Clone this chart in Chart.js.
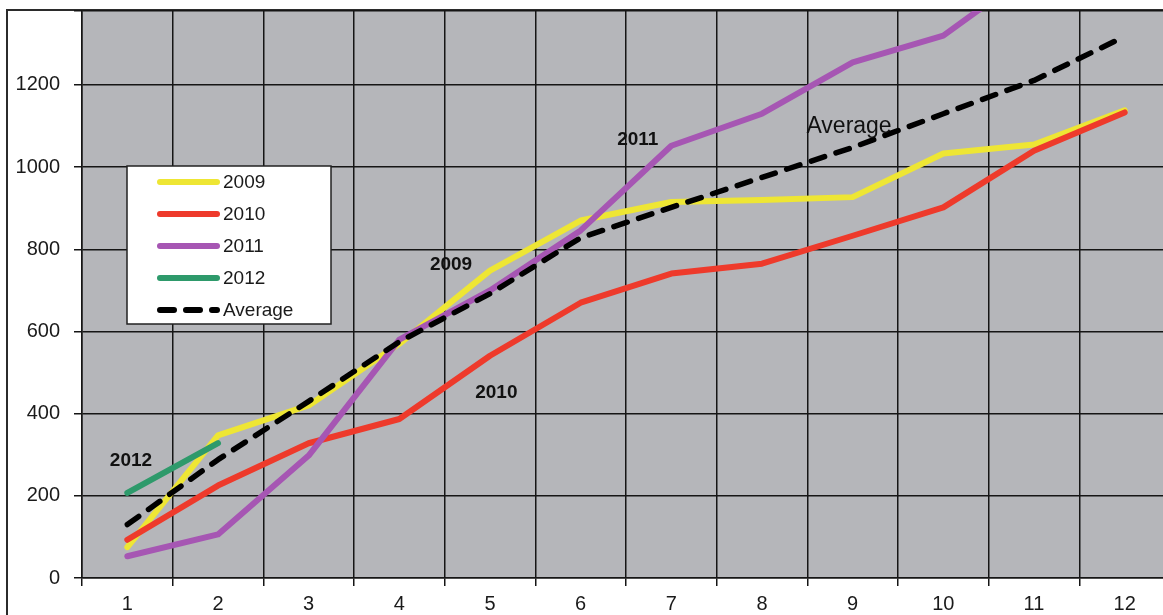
<!DOCTYPE html>
<html>
<head>
<meta charset="utf-8">
<script src="https://cdn.jsdelivr.net/npm/chart.js@4.4.0/dist/chart.umd.min.js"></script>
<style>
  html, body { margin: 0; padding: 0; background: #fff; overflow: hidden; width: 1163px; height: 615px; }
  #frame { position: absolute; left: 6px; top: 9px; width: 1200px; height: 700px;
           border-left: 2px solid #2b2b2b; border-top: 2px solid #2b2b2b; }
  #wrap { position: absolute; left: 0; top: 0; width: 1180px; height: 640px; }
</style>
</head>
<body>
<div id="frame"></div>
<div id="wrap"><canvas id="chart" width="1180" height="640"></canvas></div>
<script>
// month index 1..12
const months = ["1", "2", "3", "4", "5", "6", "7", "8", "9", "10", "11", "12"];

const y2009 = [75, 347, 420, 570, 748, 870, 915, 920, 927, 1033, 1055, 1138];
const y2010 = [93, 225, 328, 387, 541, 670, 741, 765, 833, 902, 1040, 1133];
const y2011 = [53, 106, 298, 580, 700, 846, 1052, 1130, 1255, 1320, 1480, 1580];
const y2012 = [207, 328];
const yAverage = [130, 288, 430, 575, 692, 828, 902, 975, 1048, 1130, 1211, 1318];

const yTicks = [0, 200, 400, 600, 800, 1000, 1200];

// in-plot labels: text, category position (0-based, fractional), value
const noteText = ["2012", "2009", "2011", "2010", "Average"];
const noteX    = [0.04, 3.57, 5.63, 4.07, 7.96];
const noteY    = [286, 763, 1067, 452, 1099];
const noteBold = [true, true, true, true, false];

const FONT = "'Liberation Sans', Arial, sans-serif";
const GRID = "#151515";

/** Gray plot background behind everything. */
const plotBg = {
  id: "plotBg",
  beforeDraw(chart) {
    const { ctx, chartArea: a } = chart;
    ctx.save();
    ctx.fillStyle = "#b5b6ba";
    ctx.fillRect(a.left, a.top, a.right - a.left, a.bottom - a.top);
    ctx.restore();
  },
};

/** Free text labels placed in data space + boxed legend. */
const notesAndLegend = {
  id: "notesAndLegend",
  afterDraw(chart) {
    const { ctx } = chart;
    const xs = chart.scales.x, ys = chart.scales.y;
    ctx.save();
    ctx.fillStyle = "#111";
    ctx.textAlign = "center";
    ctx.textBaseline = "middle";
    noteText.forEach((t, i) => {
      ctx.font = noteBold[i] ? `bold 19px ${FONT}` : `23px ${FONT}`;
      ctx.fillText(t, xs.getPixelForValue(noteX[i]), ys.getPixelForValue(noteY[i]));
    });

    // legend box
    const L = 127, T = 166, W = 204, H = 158, row = 32;
    ctx.fillStyle = "#fff";
    ctx.fillRect(L, T, W, H);
    ctx.strokeStyle = "#222";
    ctx.lineWidth = 1.5;
    ctx.strokeRect(L, T, W, H);

    ctx.font = `19px ${FONT}`;
    ctx.textAlign = "left";
    chart.data.datasets.forEach((ds, i) => {
      const y = T + 16 + i * row;
      ctx.beginPath();
      ctx.setLineDash(ds.borderDash || []);
      ctx.lineCap = "round";
      ctx.lineWidth = 6;
      ctx.strokeStyle = ds.borderColor;
      ctx.moveTo(160, y);
      ctx.lineTo(217, y);
      ctx.stroke();
      ctx.setLineDash([]);
      ctx.fillStyle = "#1a1a1a";
      ctx.fillText(ds.label, 223, y + 1);
    });
    ctx.restore();
  },
};

const line = (label, data, color, order, extra = {}) => ({
  label, data,
  borderColor: color,
  backgroundColor: color,
  borderWidth: 6,
  borderCapStyle: "round",
  borderJoinStyle: "round",
  pointRadius: 0,
  tension: 0,
  fill: false,
  order,
  ...extra,
});

new Chart(document.getElementById("chart"), {
  type: "line",
  data: {
    labels: months,
    datasets: [
      line("2009", y2009, "#eee634", 5),
      line("2010", y2010, "#ee3a2b", 4),
      line("2011", y2011, "#a656b3", 3),
      line("2012", y2012, "#2e9a6b", 2),
      line("Average", yAverage, "#000000", 1, { borderDash: [14, 12], borderWidth: 5.5 }),
    ],
  },
  options: {
    responsive: false,
    animation: false,
    devicePixelRatio: 1,
    layout: { padding: { left: 0, top: 11, right: 10, bottom: 0 } },
    plugins: { legend: { display: false }, tooltip: { enabled: false } },
    scales: {
      x: {
        offset: true,
        grid: { offset: true, color: GRID, lineWidth: 1.5, tickLength: 8 },
        border: { color: GRID, width: 1.5 },
        ticks: { color: "#1a1a1a", font: { family: FONT, size: 20 }, padding: 6, maxRotation: 0 },
        afterFit: s => { s.height = 62; },
      },
      y: {
        min: 0,
        max: 1380,
        grid: { color: GRID, lineWidth: 1.5, tickLength: 8 },
        border: { color: GRID, width: 1.5 },
        afterBuildTicks: s => {
          s.ticks = yTicks.map(v => ({ value: v })).concat([{ value: 1380 }]);
        },
        ticks: {
          color: "#1a1a1a",
          font: { family: FONT, size: 20 },
          padding: 14,
          callback: v => (yTicks.includes(v) ? String(v) : ""),
        },
        afterFit: s => { s.width = 82; s.paddingTop = 0; s.paddingBottom = 0; },
      },
    },
  },
  plugins: [plotBg, notesAndLegend],
});
</script>
</body>
</html>
